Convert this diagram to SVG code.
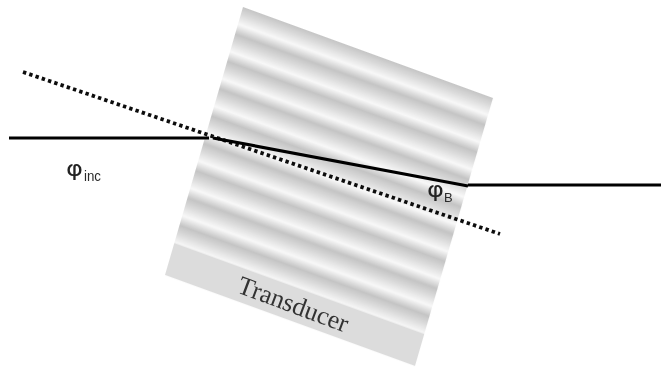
<svg xmlns="http://www.w3.org/2000/svg" width="661" height="369" viewBox="0 0 661 369">
<style>
.ray{fill:none;stroke:#000;stroke-width:3.2}
.dots{fill:none;stroke:#111;stroke-width:3.8;stroke-dasharray:3.4 3.2}
.sym{font-family:"DejaVu Sans",sans-serif;fill:#222}
.sub{font-family:"Liberation Sans",sans-serif;fill:#2a2a2a}
</style>
<defs>
<linearGradient id="ripple" gradientUnits="userSpaceOnUse" x1="0" y1="-3.8" x2="0" y2="6.4" spreadMethod="repeat">
<stop offset="0" stop-color="#f8f8f8"/>
<stop offset="0.36" stop-color="#c4c4c4"/>
<stop offset="0.62" stop-color="#d8d8d8"/>
<stop offset="1" stop-color="#f8f8f8"/>
</linearGradient>
<filter id="soft" x="-5%" y="-5%" width="110%" height="110%"><feGaussianBlur stdDeviation="0.6"/></filter>
<filter id="softer" x="-5%" y="-5%" width="110%" height="110%"><feGaussianBlur stdDeviation="0.2"/></filter>
</defs>
<g id="medium" filter="url(#softer)" transform="matrix(2.5,0.91,-0.78,2.68,243,7)">
<rect x="0" y="0" width="100" height="88" fill="url(#ripple)"/>
<rect x="0" y="88" width="100" height="12" fill="#dcdcdc"/>
</g>
<g id="connectors" filter="url(#soft)">
<path class="dots" d="M23 72L500 234"/>
<path class="ray" d="M9 138H209"/>
<path class="ray" d="M213 138L468 186"/>
<path class="ray" d="M468 185H661"/>
</g>
<g id="transducer" filter="url(#soft)">
<text transform="translate(236 292) rotate(20.5)" font-family="Liberation Serif,serif" font-size="26" fill="#333">Transducer</text>
</g>
<g id="phi-inc" filter="url(#soft)">
<text class="sym" x="66" y="176" font-size="22" textLength="17" lengthAdjust="spacingAndGlyphs">φ</text>
<text class="sub" x="84" y="181" font-size="15" textLength="17" lengthAdjust="spacingAndGlyphs">inc</text>
</g>
<g id="phi-b" filter="url(#soft)">
<text class="sym" x="427" y="197" font-size="22" textLength="17" lengthAdjust="spacingAndGlyphs">φ</text>
<text class="sub" x="444" y="202" font-size="13">B</text>
</g>
</svg>
